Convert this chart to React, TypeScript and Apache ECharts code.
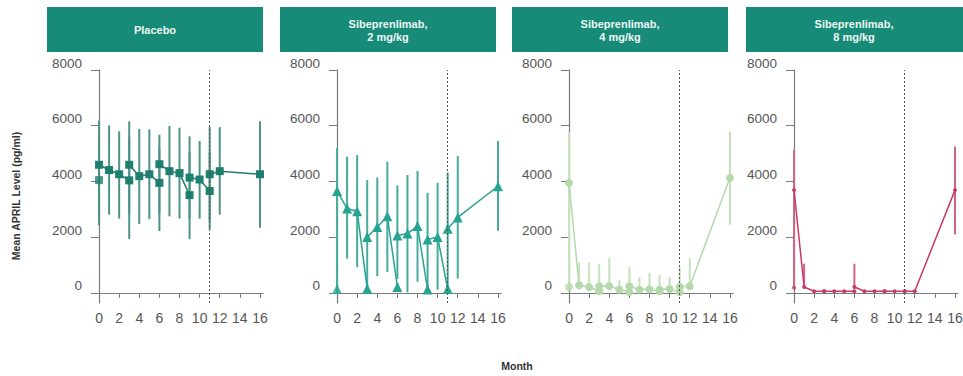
import React, { useEffect, useRef } from "react";
import * as echarts from "echarts";

// ---- data ----
const segmentMonths = [[0, 1, 2, 3], [3, 4, 5, 6], [6, 7, 8, 9], [9, 10, 11], [11, 12, 16]];
const xTicks = [0, 2, 4, 6, 8, 10, 12, 14, 16];
const yTicks = [0, 2000, 4000, 6000, 8000];
const panelTitles = ["Placebo", "Sibeprenlimab,\n2 mg/kg", "Sibeprenlimab,\n4 mg/kg", "Sibeprenlimab,\n8 mg/kg"];
const yAxisTitle = "Mean APRIL Level (pg/ml)";
const xAxisTitle = "Month";

const placeboMean = [[4600, 4410, 4260, 4040], [4600, 4190, 4260, 3950], [4620, 4370, 4300, 3510], [4140, 4070, 3660], [4260, 4370, 4260]];
const placeboLow = [[2800, 2810, 2670, 1940], [2850, 2470, 2650, 2220], [2850, 2750, 2670, 1930], [2670, 2670, 2280], [2590, 2810, 2340]];
const placeboHigh = [[6180, 6010, 5800, 5600], [6160, 5880, 5870, 5200], [5680, 5990, 5930, 5040], [5620, 5450, 5070], [5950, 5950, 6160]];
const placeboBaseline = [4050, 2430, 5700];

const dose2Mean = [[3660, 3030, 2930, 155], [2010, 2370, 2750, 215], [2060, 2130, 2400, 120], [1920, 2010, 140], [2300, 2710, 3830]];
const dose2Low = [[150, 1230, 930, 100], [100, 600, 750, 200], [500, 20, 400, 100], [100, 120, 100], [100, 515, 2230]];
const dose2High = [[5210, 4890, 4950, 300], [4050, 4140, 4710, 350], [3860, 4230, 4380, 250], [3590, 3950, 250], [4320, 4910, 5450]];
const dose2Baseline = [140, 0, 300];

const dose4Mean = [[3950, 275, 215, 60], [240, 250, 120, 35], [240, 120, 130, 60], [120, 145, 35], [215, 240, 4130]];
const dose4Low = [[250, 200, 150, 20], [100, 150, 60, 10], [100, 60, 60, 20], [60, 60, 10], [100, 120, 2450]];
const dose4High = [[5780, 1090, 1090, 200], [1050, 1260, 455, 150], [930, 575, 720, 200], [635, 575, 150], [930, 1260, 5780]];
const dose4Baseline = [215, 100, 400];

const dose8Mean = [[3690, 215, 60, 60], [60, 60, 60, 60], [215, 60, 60, 60], [60, 60, 60], [60, 60, 3690]];
const dose8Low = [[190, 200, 60, 60], [60, 60, 60, 60], [200, 60, 60, 60], [60, 60, 60], [60, 60, 2100]];
const dose8High = [[5130, 1050, 60, 60], [60, 60, 60, 60], [1050, 60, 60, 60], [60, 60, 60], [60, 60, 5250]];
const dose8Baseline = [190, 190, 190];

const doseBreakMonth = 11;

// ---- styling ----
const panelLefts = [92, 330, 562, 787];
const headerLefts = [47, 280, 512, 746];
const panelColors = ["#1f7f6f", "#27a392", "#b5d9ab", "#c83a66"];
const barColors = ["#4d9287", "#45ab9c", "#c6e2bd", "#d06283"];
const symbols = ["rect", "triangle", "circle", "circle"];
const symbolSizes = [8, 10, 8, 4];
const headerColor = "#178a78";

const panels = [
  { mean: placeboMean, low: placeboLow, high: placeboHigh, base: placeboBaseline },
  { mean: dose2Mean, low: dose2Low, high: dose2High, base: dose2Baseline },
  { mean: dose4Mean, low: dose4Low, high: dose4High, base: dose4Baseline },
  { mean: dose8Mean, low: dose8Low, high: dose8High, base: dose8Baseline },
];

const axisGrey = "#7a7a7a";
const labelGrey = "#555";

function buildOption() {
  const grids: any[] = [];
  const xAxes: any[] = [];
  const yAxes: any[] = [];
  const series: any[] = [];
  const graphics: any[] = [];

  panels.forEach((p, i) => {
    grids.push({ left: panelLefts[i], top: 70, width: 171, height: 233, outerBoundsMode: "none", containLabel: false });
    xAxes.push({
      type: "value", gridIndex: i, min: -0.7, max: 16.3,
      axisLine: { show: true, lineStyle: { color: axisGrey, width: 1.2 } },
      axisTick: { show: true, customValues: xTicks, length: 5, lineStyle: { color: axisGrey } },
      axisLabel: { customValues: xTicks, color: labelGrey, fontSize: 14, margin: 8, fontFamily: "Liberation Sans, Arial, sans-serif", formatter: (v: number) => String(v) },
      splitLine: { show: false },
    });
    yAxes.push({
      type: "value", gridIndex: i, min: -360, max: 8000,
      axisLine: { show: true, lineStyle: { color: axisGrey, width: 1.2 } },
      axisTick: { show: true, customValues: yTicks, length: 8, lineStyle: { color: axisGrey } },
      axisLabel: { customValues: yTicks, color: labelGrey, fontSize: 13.5, margin: 10, verticalAlign: "bottom", lineHeight: 14, fontFamily: "Liberation Sans, Arial, sans-serif", formatter: (v: number) => String(v) },
      splitLine: { show: false },
    });

    // error bars
    const barData: number[][] = [];
    segmentMonths.forEach((ms, s) => {
      ms.forEach((m, j) => barData.push([m, p.low[s][j], p.high[s][j]]));
    });
    barData.push([0, p.base[1], p.base[2]]);
    const bc = barColors[i];
    series.push({
      type: "custom", xAxisIndex: i, yAxisIndex: i, data: barData, z: 1,
      encode: { x: 0, y: [1, 2] },
      renderItem: (params: any, api: any) => {
        const x = api.value(0);
        const a = api.coord([x, api.value(1)]);
        const b = api.coord([x, api.value(2)]);
        return { type: "line", shape: { x1: a[0], y1: a[1], x2: b[0], y2: b[1] }, style: { stroke: bc, lineWidth: 2 } };
      },
    });

    // line segments
    segmentMonths.forEach((ms, s) => {
      const seriesItem: any = {
        type: "line", xAxisIndex: i, yAxisIndex: i, z: 3,
        data: ms.map((m, j) => [m, p.mean[s][j]]),
        symbol: symbols[i], symbolSize: symbolSizes[i], showSymbol: true,
        lineStyle: { color: panelColors[i], width: 1.5 },
        itemStyle: { color: panelColors[i] },
      };
      if (s === 0) {
        seriesItem.markLine = {
          silent: true, symbol: ["none", "none"], label: { show: false },
          lineStyle: { color: "#555", type: [2, 2], width: 1 },
          data: [{ xAxis: doseBreakMonth }],
        };
      }
      series.push(seriesItem);
    });

    // baseline isolated point
    series.push({
      type: "scatter", xAxisIndex: i, yAxisIndex: i, z: 3,
      data: [[0, p.base[0]]],
      symbol: symbols[i], symbolSize: symbolSizes[i],
      itemStyle: { color: panelColors[i] },
    });

    // header
    graphics.push({
      type: "rect", shape: { x: headerLefts[i], y: 7, width: i === 3 ? 217 : 216, height: 45 },
      style: { fill: headerColor },
    });
    graphics.push({
      type: "text", x: headerLefts[i] + 108, y: 30,
      style: {
        text: panelTitles[i], fill: "#eef7f4", fontSize: 11, fontWeight: "bold", lineHeight: 13,
        fontFamily: "'Liberation Sans Narrow', 'Liberation Sans', Arial, sans-serif",
        align: "center", verticalAlign: "middle",
      },
    });
  });

  graphics.push({
    type: "text", x: 16, y: 196, rotation: Math.PI / 2,
    style: { text: yAxisTitle, fill: "#333", fontSize: 10.5, fontWeight: "bold", fontFamily: "'Liberation Sans', Arial, sans-serif", align: "center", verticalAlign: "middle" },
  });
  graphics.push({
    type: "text", x: 517, y: 366,
    style: { text: xAxisTitle, fill: "#333", fontSize: 10.5, fontWeight: "bold", fontFamily: "'Liberation Sans', Arial, sans-serif", align: "center", verticalAlign: "middle" },
  });

  return {
    animation: false,
    backgroundColor: "#ffffff",
    grid: grids,
    xAxis: xAxes,
    yAxis: yAxes,
    series,
    graphic: graphics,
  };
}

export default function App() {
  const ref = useRef<HTMLDivElement>(null);
  useEffect(() => {
    if (!ref.current) return;
    const chart = echarts.init(ref.current, undefined, { renderer: "svg" });
    chart.setOption(buildOption() as any);
    return () => chart.dispose();
  }, []);
  return <div ref={ref} style={{ position: "fixed", left: 0, top: 0, width: 963, height: 376 }} />;
}
